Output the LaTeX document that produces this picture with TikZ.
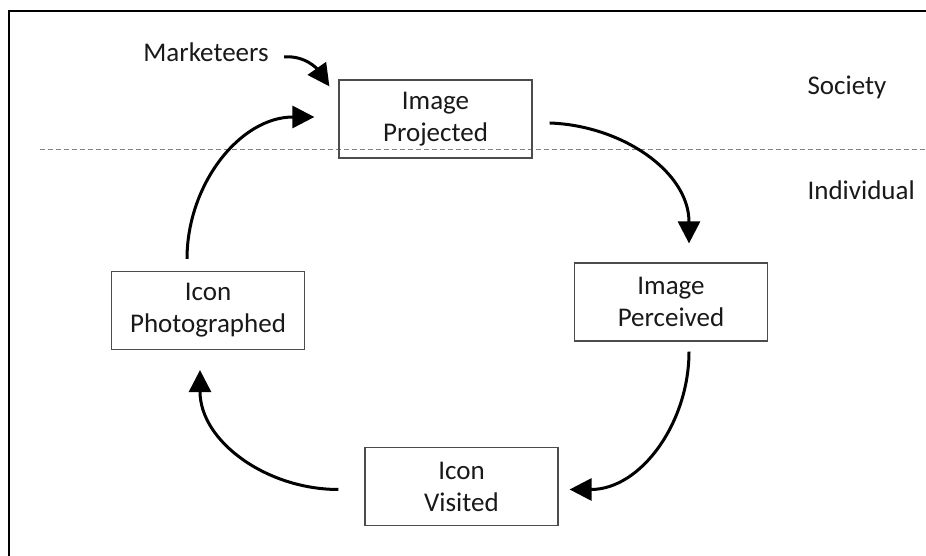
\documentclass[tikz,border=0pt]{standalone}
\usepackage{fontspec}
\setmainfont{Carlito}
\usepackage{tikz}
\usetikzlibrary{positioning,calc,arrows.meta}

\begin{document}
\begin{tikzpicture}[x=1pt, y=1pt,
    every node/.style={font=\fontsize{27}{32}\selectfont, text=black!90},
    box/.style={draw=black!70, line width=1.2pt, rectangle, minimum width=193pt, minimum height=78pt, inner sep=0pt, align=center},
    cyc/.style={line width=3pt, -{Triangle[length=22pt,width=22pt]}}]
    \useasboundingbox (0,0) rectangle (926,556);
    % frame and divider
    \draw[line width=2.5pt] (9,0) -- (9,545) -- (926,545);
    \draw[black!50, line width=0.9pt, dash pattern=on 5pt off 3pt] (40,407) -- (926,407);

    \node (proj) [box] at (435.5,437) {Image\\Projected};
    \node (perc) [box] at (671,254) {Image\\Perceived};
    \node (vis) [box] at (461.5,69.5) {Icon\\Visited};
    \node (phot) [box] at (208,245.5) {Icon\\Photographed};

    \node (mkt) at (206,504) {Marketeers};
    \node (soc) [anchor=west] at (804,469) {Society};
    \node (ind) [anchor=west] at (804,366) {Individual};

    \draw[cyc] ([xshift=17pt,yshift=-4pt]proj.east) to[out=-2,in=90] ([xshift=18pt,yshift=19pt]perc.north);
    \draw[cyc] ([xshift=18pt,yshift=-10pt]perc.south) to[out=-90,in=0] ([xshift=11pt,yshift=-3pt]vis.east);
    \draw[cyc] ([xshift=-26pt,yshift=-3pt]vis.west) to[out=180,in=-90] ([xshift=-8pt,yshift=-20pt]phot.south);
    \draw[cyc] ([xshift=-21pt,yshift=12pt]phot.north) to[out=90,in=180] ([xshift=-24pt,yshift=2pt]proj.west);
    \draw[cyc] ([xshift=12pt,yshift=-5pt]mkt.east) to[out=5,in=125] ([xshift=-9pt,yshift=-7pt]proj.north west);
\end{tikzpicture}
\end{document}
